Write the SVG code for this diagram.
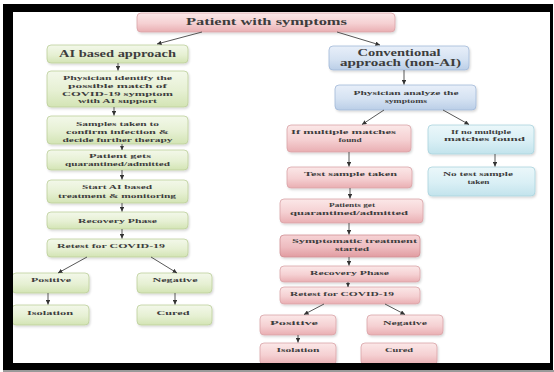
<svg xmlns="http://www.w3.org/2000/svg" width="554" height="372" viewBox="0 0 554 372">
<defs>
<linearGradient id="gPink" x1="0" y1="0" x2="0" y2="1"><stop offset="0" stop-color="#fbe8e8"/><stop offset="0.55" stop-color="#f5d0d2"/><stop offset="1" stop-color="#e9aeb2"/></linearGradient>
<linearGradient id="gPinkD" x1="0" y1="0" x2="0" y2="1"><stop offset="0" stop-color="#f6d3d5"/><stop offset="0.55" stop-color="#eebcc0"/><stop offset="1" stop-color="#e19ca1"/></linearGradient>
<linearGradient id="gGreen" x1="0" y1="0" x2="0" y2="1"><stop offset="0" stop-color="#f3f8ea"/><stop offset="0.55" stop-color="#e6f0d3"/><stop offset="1" stop-color="#d3e4b4"/></linearGradient>
<linearGradient id="gBlue" x1="0" y1="0" x2="0" y2="1"><stop offset="0" stop-color="#e8eff9"/><stop offset="0.55" stop-color="#d5e2f2"/><stop offset="1" stop-color="#bacee7"/></linearGradient>
<linearGradient id="gCyan" x1="0" y1="0" x2="0" y2="1"><stop offset="0" stop-color="#ebf7fa"/><stop offset="0.55" stop-color="#d9eff5"/><stop offset="1" stop-color="#c2e3ec"/></linearGradient>
<filter id="sh" x="-10%" y="-20%" width="125%" height="150%"><feDropShadow dx="1" dy="1.5" stdDeviation="0.8" flood-color="#000" flood-opacity="0.16"/></filter>
<marker id="ah" viewBox="0 0 6 6" refX="6" refY="3" markerWidth="4.5" markerHeight="4.5" markerUnits="userSpaceOnUse" orient="auto"><path d="M0,0 L6,3 L0,6 z" fill="#333"/></marker>
</defs>
<style>
rect.b{stroke-width:0.8;filter:url(#sh)}
.pink{fill:url(#gPink);stroke:#d9a3a7}
.pinkd{fill:url(#gPinkD);stroke:#d08f94}
.green{fill:url(#gGreen);stroke:#bccf9b}
.blue{fill:url(#gBlue);stroke:#a2b9d8}
.cyan{fill:url(#gCyan);stroke:#a9d3dd}
text{font-family:"Liberation Serif","Times New Roman",serif;font-weight:bold;fill:#3d3d3d;text-anchor:middle;font-size:7px}
text.t1{font-size:11px}
text.t2{font-size:9.5px}
#connectors line{stroke:#444;stroke-width:0.9;marker-end:url(#ah)}
</style>
<rect x="0" y="0" width="554" height="372" fill="#ffffff"/>

<g id="n-top"><rect class="b pink" x="137" y="13" width="258" height="19" rx="4"/><text class="t1" x="266.5" y="24.5" textLength="161" lengthAdjust="spacingAndGlyphs">Patient with symptoms</text></g>

<g id="n-ai"><rect class="b green" x="47" y="45" width="141" height="18" rx="4"/><text class="t2" x="117.5" y="57" textLength="117" lengthAdjust="spacingAndGlyphs">AI based approach</text></g>
<g id="n-identify"><rect class="b green" x="47" y="71" width="141" height="36" rx="4"/>
<text x="117.5" y="80" textLength="109" lengthAdjust="spacingAndGlyphs">Physician identify the</text>
<text x="117.5" y="88" textLength="99" lengthAdjust="spacingAndGlyphs">possible match of</text>
<text x="117.5" y="95.5" textLength="111" lengthAdjust="spacingAndGlyphs">COVID-19 symptom</text>
<text x="117.5" y="103" textLength="79" lengthAdjust="spacingAndGlyphs">with AI support</text></g>
<g id="n-samples"><rect class="b green" x="47" y="116" width="141" height="28" rx="4"/>
<text x="117.5" y="125.5" textLength="83" lengthAdjust="spacingAndGlyphs">Samples taken to</text>
<text x="117.5" y="133.5" textLength="103" lengthAdjust="spacingAndGlyphs">confirm infection &amp;</text>
<text x="117.5" y="141.5" textLength="110" lengthAdjust="spacingAndGlyphs">decide further therapy</text></g>
<g id="n-quarL"><rect class="b green" x="47" y="150" width="141" height="20" rx="4"/>
<text x="120" y="157.5" textLength="62" lengthAdjust="spacingAndGlyphs">Patient gets</text>
<text x="117.5" y="165.5" textLength="105" lengthAdjust="spacingAndGlyphs">quarantined/admitted</text></g>
<g id="n-startai"><rect class="b green" x="47" y="180" width="141" height="23" rx="4"/>
<text x="117" y="188.5" textLength="70" lengthAdjust="spacingAndGlyphs">Start AI based</text>
<text x="117" y="197.5" textLength="118" lengthAdjust="spacingAndGlyphs">treatment &amp; monitoring</text></g>
<g id="n-recL"><rect class="b green" x="47" y="212" width="141" height="17" rx="4"/><text x="117.5" y="222.5" textLength="79" lengthAdjust="spacingAndGlyphs">Recovery Phase</text></g>
<g id="n-retestL"><rect class="b green" x="47" y="239" width="141" height="18" rx="4"/><text x="111" y="247.5" textLength="108" lengthAdjust="spacingAndGlyphs">Retest for COVID-19</text></g>
<g id="n-posL"><rect class="b green" x="12" y="273" width="77" height="20" rx="4"/><text x="51" y="281.5" textLength="40" lengthAdjust="spacingAndGlyphs">Positive</text></g>
<g id="n-negL"><rect class="b green" x="137" y="273" width="75" height="20" rx="4"/><text x="175" y="281.5" textLength="45" lengthAdjust="spacingAndGlyphs">Negative</text></g>
<g id="n-isoL"><rect class="b green" x="12" y="305" width="77" height="20" rx="4"/><text x="50" y="314.5" textLength="46" lengthAdjust="spacingAndGlyphs">Isolation</text></g>
<g id="n-curedL"><rect class="b green" x="137" y="305" width="75" height="20" rx="4"/><text x="173" y="314.5" textLength="33" lengthAdjust="spacingAndGlyphs">Cured</text></g>

<g id="n-conv"><rect class="b blue" x="329" y="46" width="140" height="24" rx="4"/>
<text class="t2" x="399" y="56" textLength="83" lengthAdjust="spacingAndGlyphs">Conventional</text>
<text class="t2" x="400.5" y="66" textLength="121" lengthAdjust="spacingAndGlyphs">approach (non-AI)</text></g>
<g id="n-analyze"><rect class="b blue" x="335" y="85" width="141" height="25" rx="4"/>
<text x="406" y="94.5" textLength="105" lengthAdjust="spacingAndGlyphs">Physician analyze the</text>
<text x="406" y="102.5" textLength="42" lengthAdjust="spacingAndGlyphs">symptoms</text></g>
<g id="n-multi"><rect class="b pink" x="287" y="125" width="124" height="27" rx="4"/>
<text x="343.5" y="133.5" textLength="105" lengthAdjust="spacingAndGlyphs">If multiple matches</text>
<text x="350" y="141.5" textLength="23" lengthAdjust="spacingAndGlyphs">found</text></g>
<g id="n-nomulti"><rect class="b cyan" x="428" y="125" width="106" height="29" rx="4"/>
<text x="481" y="133.5" textLength="60" lengthAdjust="spacingAndGlyphs">If no multiple</text>
<text x="484.5" y="141" textLength="81" lengthAdjust="spacingAndGlyphs">matches found</text></g>
<g id="n-testsample"><rect class="b pink" x="287" y="167" width="125" height="21" rx="4"/><text x="350.5" y="175.5" textLength="93" lengthAdjust="spacingAndGlyphs">Test sample taken</text></g>
<g id="n-notest"><rect class="b cyan" x="428" y="167" width="107" height="29" rx="4"/>
<text x="478" y="176" textLength="70" lengthAdjust="spacingAndGlyphs">No test sample</text>
<text x="478.5" y="183.5" textLength="22" lengthAdjust="spacingAndGlyphs">taken</text></g>
<g id="n-quarR"><rect class="b pink" x="280" y="199" width="143" height="24" rx="4"/>
<text x="352" y="207" textLength="46" lengthAdjust="spacingAndGlyphs">Patients get</text>
<text x="349" y="215" textLength="118" lengthAdjust="spacingAndGlyphs">quarantined/admitted</text></g>
<g id="n-sympt"><rect class="b pinkd" x="280" y="235" width="140" height="22" rx="4"/>
<text x="354.5" y="243" textLength="125" lengthAdjust="spacingAndGlyphs">Symptomatic treatment</text>
<text x="352" y="250.5" textLength="34" lengthAdjust="spacingAndGlyphs">started</text></g>
<g id="n-recR"><rect class="b pink" x="280" y="266" width="140" height="16" rx="4"/><text x="349.5" y="275" textLength="79" lengthAdjust="spacingAndGlyphs">Recovery Phase</text></g>
<g id="n-retestR"><rect class="b pink" x="280" y="287" width="140" height="17" rx="4"/><text x="342" y="296" textLength="104" lengthAdjust="spacingAndGlyphs">Retest for COVID-19</text></g>
<g id="n-posR"><rect class="b pink" x="260" y="315" width="76" height="20" rx="4"/><text x="294" y="324.5" textLength="48" lengthAdjust="spacingAndGlyphs">Positive</text></g>
<g id="n-negR"><rect class="b pink" x="367" y="315" width="76" height="20" rx="4"/><text x="405" y="324.5" textLength="44" lengthAdjust="spacingAndGlyphs">Negative</text></g>
<g id="n-isoR"><rect class="b pink" x="260" y="343" width="76" height="22" rx="4"/><text x="298" y="351.5" textLength="43" lengthAdjust="spacingAndGlyphs">Isolation</text></g>
<g id="n-curedR"><rect class="b pink" x="361" y="343" width="76" height="22" rx="4"/><text x="399" y="351.5" textLength="28" lengthAdjust="spacingAndGlyphs">Cured</text></g>

<g id="connectors">
<line x1="202" y1="32" x2="157" y2="44"/>
<line x1="118" y1="63" x2="118" y2="70.5"/>
<line x1="114" y1="107" x2="114" y2="115.5"/>
<line x1="122" y1="144" x2="122" y2="150"/>
<line x1="122" y1="170" x2="122" y2="179.5"/>
<line x1="122" y1="203" x2="122" y2="211.5"/>
<line x1="122" y1="229" x2="122" y2="238.5"/>
<line x1="87" y1="257" x2="58" y2="273"/>
<line x1="151" y1="257" x2="177" y2="273"/>
<line x1="48" y1="293" x2="48" y2="304.5"/>
<line x1="175" y1="293" x2="175" y2="304.5"/>
<line x1="337" y1="32" x2="380" y2="45"/>
<line x1="404" y1="70" x2="404" y2="84.5"/>
<line x1="384" y1="110" x2="362" y2="124.5"/>
<line x1="443" y1="110" x2="469" y2="124.5"/>
<line x1="349" y1="152" x2="349" y2="166.5"/>
<line x1="495" y1="154" x2="495" y2="166.5"/>
<line x1="350" y1="188" x2="350" y2="198.5"/>
<line x1="349" y1="223" x2="349" y2="234.5"/>
<line x1="349" y1="257" x2="349" y2="265.5"/>
<line x1="348" y1="282" x2="348" y2="287"/>
<line x1="324" y1="304" x2="304" y2="314.5"/>
<line x1="385" y1="304" x2="405" y2="314.5"/>
<line x1="298" y1="335" x2="298" y2="342.5"/>
</g>

<path d="M3,4 H553 V370 H3 Z M13,12 V363 H550 V12 Z" fill="#000" fill-rule="evenodd"/>
<rect x="3" y="370" width="551" height="2" fill="#9a9a9a"/>
</svg>
